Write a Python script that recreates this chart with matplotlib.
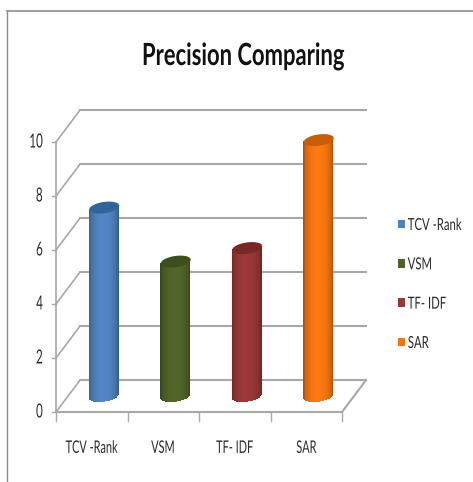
import numpy as np
import matplotlib
matplotlib.use('Agg')
import matplotlib.pyplot as plt
from matplotlib.lines import Line2D
from matplotlib.patches import Patch
from matplotlib.colors import to_rgb
from matplotlib.patheffects import AbstractPathEffect
from matplotlib.transforms import Affine2D

categories = ['TCV -Rank', 'VSM', 'TF- IDF', 'SAR']
values = [7.0, 5.0, 5.5, 9.5]
colors = ['#4f81bd', '#4f6228', '#953735', '#f57410']
top_colors = ['#30659c', '#3d4f1c', '#7a2826', '#c95c08']
yticks = [0, 2, 4, 6, 8, 10]

plt.rcParams['font.family'] = ['Lato', 'DejaVu Sans']

W, H = 473, 482
GRID = '#a8a8a8'
TXT = '#2b2b2b'
DX = 0.336   # depth of the 3d box in data units
DY = 1.18
BAR_W = 0.42
RY = 0.21    # half height of the ellipse
TILT = 0.07


class Squeeze(AbstractPathEffect):
    # the original font is a condensed one, so narrow the glyphs around an anchor
    def __init__(self, sx, anchor='center', shift=0):
        super().__init__()
        self.sx = sx
        self.anchor = anchor
        self.shift = shift

    def draw_path(self, renderer, gc, tpath, affine, rgbFace=None):
        box = tpath.get_extents(affine)
        x0 = {'left': box.x0, 'right': box.x1, 'center': (box.x0 + box.x1) / 2}[self.anchor]
        squeeze = Affine2D().translate(-x0, 0).scale(self.sx, 1).translate(x0 + self.shift, 0)
        renderer.draw_path(gc, tpath, affine + squeeze, rgbFace)


fig = plt.figure(figsize=(W / 100, H / 100), dpi=100)
ax = fig.add_axes([56 / W, 1 - 412 / H, 286 / W, 270 / H])
ax.set_xlim(0, 4)
ax.set_ylim(0, 10)
ax.axis('off')

# picture frame, top and left only
fig.add_artist(Line2D([7 / W, 7 / W], [0, 1 - 11 / H], color='#8c8c8c', lw=1))
fig.add_artist(Line2D([7 / W, 1], [1 - 11 / H, 1 - 11 / H], color='#8c8c8c', lw=1.2))

# back wall and side wall
for v in yticks:
    ax.plot([DX, 4 + DX], [v + DY, v + DY], color=GRID, lw=1.5, clip_on=False, zorder=1)
    ax.plot([0, DX], [v, v + DY], color=GRID, lw=1.2, clip_on=False, zorder=1)
    ax.plot([-0.06, 0], [v, v], color=GRID, lw=1, clip_on=False, zorder=1)
    ax.text(-0.18, v, str(v), ha='right', va='center', fontsize=14, color=TXT,
            path_effects=[Squeeze(0.6, 'right')])

# floor and front axis
ax.plot([0, 0], [0, 10], color=GRID, lw=1.2, clip_on=False, zorder=1)
ax.plot([0, 4, 4 + DX], [0, 0, DY], color=GRID, lw=1.5, clip_on=False, zorder=1)
for i in range(5):
    ax.plot([i, i], [0, -0.35], color=GRID, lw=1, clip_on=False, zorder=1)
for i, c in enumerate(categories):
    ax.text(i + 0.5, -1.33, c, ha='center', va='center', fontsize=12.5, color=TXT,
            path_effects=[Squeeze(0.63)])

# cylinders, drawn as thin vertical strips so the shading follows the round side
n = 40
edges = np.linspace(-1, 1, n + 1)
mids = (edges[:-1] + edges[1:]) / 2
for i, (val, col, top) in enumerate(zip(values, colors, top_colors)):
    cx = i + 0.5 + DX / 2
    base = DY / 2
    rgb = np.array(to_rgb(col))
    for u in mids:
        shade = 0.62 + 0.42 * np.sqrt(1 - u ** 2)
        c = np.clip(rgb * shade, 0, 1)
        low = base + TILT * u - RY * np.sqrt(1 - u ** 2)
        high = base + val + TILT * u
        ax.bar(cx + u * BAR_W / 2, high - low, bottom=low, width=BAR_W / n * 1.15,
               color=c, lw=0, zorder=3, clip_on=False)
    t = np.linspace(-1, 1, 60)
    xs = cx + t * BAR_W / 2
    ax.fill_between(xs, base + val + TILT * t - RY * np.sqrt(1 - t ** 2),
                    base + val + TILT * t + RY * np.sqrt(1 - t ** 2),
                    color=top, lw=0, zorder=4, clip_on=False)

# label boxes start under the swatch, the glyphs get moved right after narrowing
handles = [Patch(facecolor=c, edgecolor='none') for c in colors]
leg = fig.legend(handles, categories, loc='center left', bbox_to_anchor=(398 / W, 1 - 284 / H),
                 frameon=False, fontsize=12, labelcolor=TXT, handlelength=0.42, handleheight=0.42,
                 handletextpad=-0.68, labelspacing=1.4, borderpad=0, borderaxespad=0)
for t in leg.get_texts():
    t.set_path_effects([Squeeze(0.68, 'left', shift=14)])

fig.text(243 / W, 1 - 56 / H, 'Precision Comparing', ha='center', va='center',
         fontsize=22, fontweight='bold', color='#111111',
         path_effects=[Squeeze(0.72)])

fig.savefig('out.png', dpi=100)
